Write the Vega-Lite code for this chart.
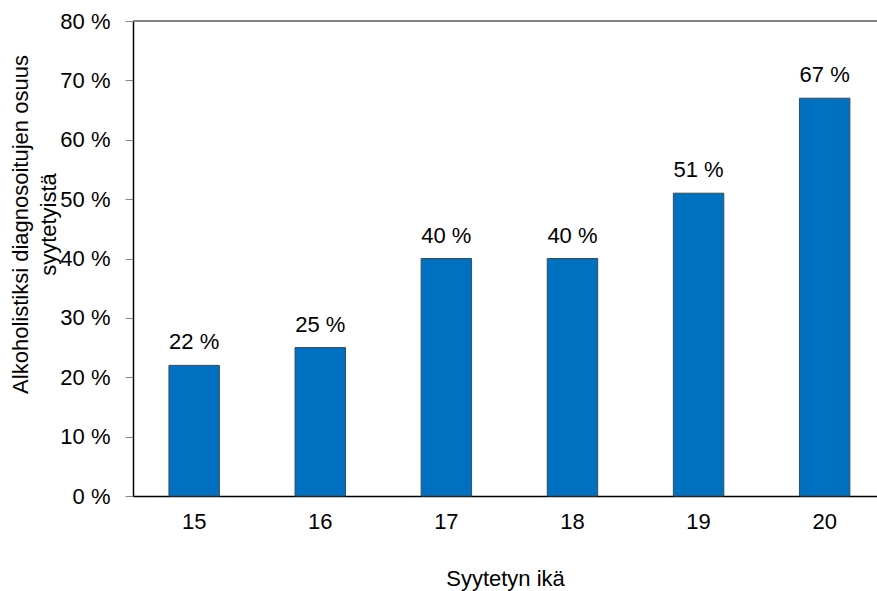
{
  "$schema": "https://vega.github.io/schema/vega-lite/v6.json",
  "autosize": "none",
  "width": 744,
  "height": 475,
  "padding": {"left": 133, "top": 21, "right": 0, "bottom": 95},
  "background": "white",
  "config": {
    "font": "Liberation Sans",
    "view": {"stroke": null},
    "locale": {"number": {"decimal": ",", "thousands": " ", "grouping": [3], "currency": ["", " €"], "percent": " %"}}
  },
  "data": {"values": [
    {"ika": "15", "osuus": 0.22},
    {"ika": "16", "osuus": 0.25},
    {"ika": "17", "osuus": 0.40},
    {"ika": "18", "osuus": 0.40},
    {"ika": "19", "osuus": 0.51},
    {"ika": "20", "osuus": 0.67}
  ]},
  "encoding": {
    "x": {
      "field": "ika", "type": "nominal",
      "scale": {"paddingInner": 0.6, "paddingOuter": 0.25, "align": 0.57},
      "axis": {
        "title": "Syytetyn ikä", "labelAngle": 0, "labelFontSize": 22, "labelColor": "black",
        "labelPadding": 15, "ticks": false, "domainColor": "black", "domainWidth": 1.5,
        "titleFontSize": 22, "titleFontWeight": "normal", "titleColor": "black", "titlePadding": 36
      }
    },
    "y": {
      "field": "osuus", "type": "quantitative",
      "scale": {"domain": [0, 0.8], "nice": false},
      "axis": {
        "values": [0, 0.1, 0.2, 0.3, 0.4, 0.5, 0.6, 0.7, 0.8],
        "format": ".0%", "grid": false, "labelFontSize": 22, "labelColor": "black",
        "tickSize": 8, "tickColor": "#888888", "labelPadding": 15,
        "domainColor": "black", "domainWidth": 1.5,
        "title": ["Alkoholistiksi diagnosoitujen osuus", "syytetyistä"],
        "titleFontSize": 22, "titleFontWeight": "normal", "titleColor": "black",
        "titleLineHeight": 28, "titleBaseline": "top", "titleX": -123, "titleY": 203, "titleAngle": -90, "titleAlign": "center"
      }
    }
  },
  "layer": [
    {
      "mark": {"type": "rule", "color": "#808080", "strokeWidth": 1.2},
      "encoding": {"y": {"datum": 0.8, "type": "quantitative"}, "x": null}
    },
    {
      "mark": {"type": "bar", "color": "#0070C0", "stroke": "#3a4a5a", "strokeWidth": 1}
    },
    {
      "mark": {"type": "text", "baseline": "alphabetic", "dy": -16, "fontSize": 22, "color": "black"},
      "encoding": {"text": {"field": "osuus", "type": "quantitative", "format": ".0%"}}
    }
  ]
}
